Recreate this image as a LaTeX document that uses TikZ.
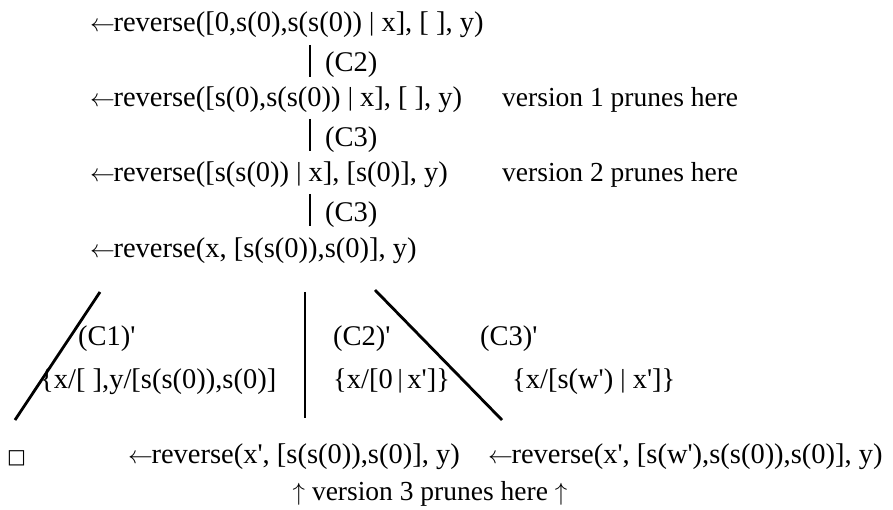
\documentclass[tikz,border=0pt]{standalone}
\usepackage{fontspec}
\setmainfont{Liberation Serif}[Ligatures=TeXOff]
\newfontfamily\symfont{DejaVu Sans}
\newcommand\myla{{\fontsize{28}{30}\selectfont$\leftarrow$}\kern-1.5pt}
\newcommand\myua{{\fontsize{26}{28}\selectfont$\uparrow$}}
\newcommand\myvb{\raisebox{1pt}{\fontsize{26}{28}\selectfont|}}
\begin{document}
\begin{tikzpicture}[x=1pt,y=-1pt,
  txt/.style={anchor=base west,inner sep=0pt,font=\fontsize{28.5}{32}\selectfont},
  plain/.style={txt,font=\fontsize{27.5}{32}\selectfont},
  edge/.style={line width=2.8pt}]
\useasboundingbox (0,0) rectangle (893,510);
% rows
\node[txt] (r1) at (90,32) {\myla reverse([0,s(0),s(s(0)) \myvb{} x], [ ], y)};
\node[txt] (r2) at (90,107) {\myla reverse([s(0),s(s(0)) \myvb{} x], [ ], y)};
\node[txt] (r3) at (90,182) {\myla reverse([s(s(0)) \myvb{} x], [s(0)], y)};
\node[txt] (r4) at (90,258) {\myla reverse(x, [s(s(0)),s(0)], y)};
\node[plain] (v1) at (502,107) {version 1 prunes here};
\node[plain] (v2) at (502,182) {version 2 prunes here};
% vertical connectors
\coordinate (a1) at (310,45); \coordinate (b1) at (310,77);
\coordinate (a2) at (310,119); \coordinate (b2) at (310,151);
\coordinate (a3) at (310,194); \coordinate (b3) at (310,226);
\draw[edge] (a1) -- (b1);
\draw[edge] (a2) -- (b2);
\draw[edge] (a3) -- (b3);
\node[txt] (l1) at (325,72) {(C2)};
\node[txt] (l2) at (325,147) {(C3)};
\node[txt] (l3) at (325,222) {(C3)};
% branches
\coordinate (t1) at (100,292); \coordinate (e1) at (15,420);
\coordinate (t2) at (305,292); \coordinate (e2) at (305,418);
\coordinate (t3) at (375,290); \coordinate (e3) at (502,420);
\draw[edge] (t1) -- (e1);
\draw[edge] (t2) -- (e2);
\draw[edge] (t3) -- (e3);
\node[txt] (c1) at (78,345) {(C1)'};
\node[txt] (s1) at (40,388) {\{x/[ ],y/[s(s(0)),s(0)]};
\node[txt] (c2) at (333,345) {(C2)'};
\node[txt] (s2) at (333,388) {\{x/[0\,\myvb\,x']\}};
\node[txt] (c3) at (480,345) {(C3)'};
\node[txt] (s3) at (512,388) {\{x/[s(w') \myvb{} x']\}};
% leaves
\node[txt] (box) at (7,463) {{\symfont\fontsize{20}{24}\selectfont □}};
\node[txt] (g2) at (128,463) {\myla reverse(x', [s(s(0)),s(0)], y)};
\node[txt] (g3) at (488,463) {\myla reverse(x', [s(w'),s(s(0)),s(0)], y)};
\node[plain,anchor=base] (v3) at (430,500) {\myua{} version 3 prunes here \myua};
\end{tikzpicture}
\end{document}
